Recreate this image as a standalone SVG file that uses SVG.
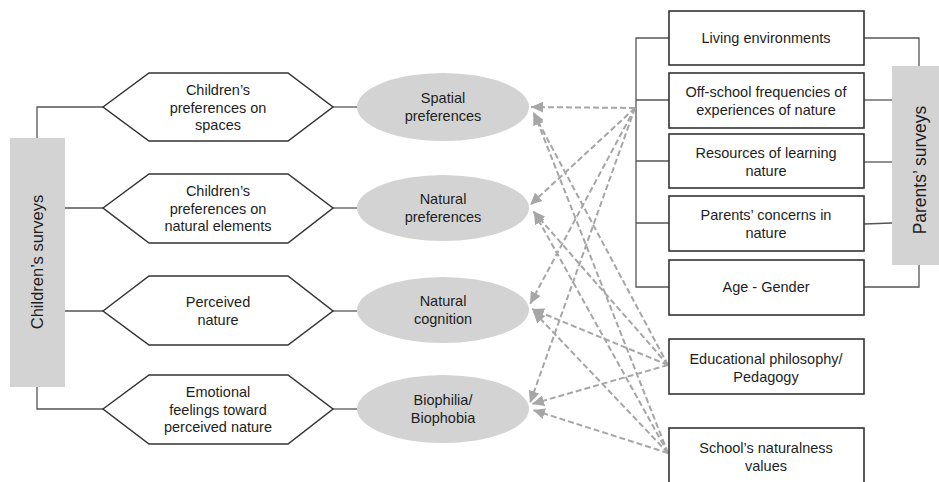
<svg xmlns="http://www.w3.org/2000/svg" width="939" height="482" viewBox="0 0 939 482">
<defs>
<style>
text{font-family:"Liberation Sans",Arial,sans-serif;fill:#1e1e1e;text-anchor:middle;font-size:14.5px}
.bar{fill:#d3d3d3;stroke:none}
.big{font-size:16.5px}
.big2{font-size:17.5px}
.hex{fill:#fff;stroke:#333;stroke-width:1.5}
.ell{fill:#d3d3d3;stroke:none}
.box{fill:#fff;stroke:#333;stroke-width:1.6}
.ln{fill:none;stroke:#555;stroke-width:1.3}
.da{fill:none;stroke:#a6a6a6;stroke-width:2;stroke-dasharray:6 3;marker-end:url(#ah)}
</style>
<marker id="ah" markerUnits="userSpaceOnUse" markerWidth="13" markerHeight="11" refX="12" refY="5.5" orient="auto" viewBox="0 0 13 11">
<path d="M0,0 L12,5.5 L0,11 z" fill="#a6a6a6"/>
</marker>
</defs>

<g id="connectors">
<path class="ln" d="M103,107 H37 V138"/>
<path class="ln" d="M65,208 H103"/>
<path class="ln" d="M65,311 H103"/>
<path class="ln" d="M37,387 V409 H103"/>
<path class="ln" d="M333,107 H357"/>
<path class="ln" d="M333,208 H357"/>
<path class="ln" d="M333,311 H357"/>
<path class="ln" d="M333,409 H357"/>
<path class="ln" d="M669,38 H636 V287 H669"/>
<path class="ln" d="M636,100 H669"/>
<path class="ln" d="M636,161 H669"/>
<path class="ln" d="M636,223 H669"/>
<path class="ln" d="M864,38 H919 V66"/>
<path class="ln" d="M864,287 H919 V265"/>
<path class="ln" d="M864,100 H892"/>
<path class="ln" d="M864,162 H892"/>
<path class="ln" d="M864,224 L892,223"/>
<path class="da" d="M635,108 L531,107"/>
<path class="da" d="M635,108 L530,205"/>
<path class="da" d="M635,108 L530,304"/>
<path class="da" d="M635,108 L530,403"/>
<path class="da" d="M668,365 L533,112"/>
<path class="da" d="M668,365 L533,211"/>
<path class="da" d="M668,365 L532,309"/>
<path class="da" d="M668,365 L532,404"/>
<path class="da" d="M668,453 L534,113"/>
<path class="da" d="M668,453 L534,212"/>
<path class="da" d="M668,453 L533,311"/>
<path class="da" d="M668,453 L533,410"/>
</g>

<g id="childrens-surveys">
<rect class="bar" x="10" y="138" width="55" height="249"/>
<text class="big" transform="translate(43,262) rotate(-90)">Children’s surveys</text>
</g>

<g id="hex-spaces">
<polygon class="hex" points="103,107 149,73 288,73 333,107 288,141 149,141"/>
<text x="218" y="95">Children’s</text>
<text x="218" y="113">preferences on</text>
<text x="218" y="130">spaces</text>
</g>
<g id="hex-natural-elements">
<polygon class="hex" points="103,208 149,174 288,174 333,208 288,243 149,243"/>
<text x="218" y="196">Children’s</text>
<text x="218" y="214">preferences on</text>
<text x="218" y="231">natural elements</text>
</g>
<g id="hex-perceived">
<polygon class="hex" points="103,311 149,276 288,276 333,311 288,345 149,345"/>
<text x="218" y="307">Perceived</text>
<text x="218" y="325">nature</text>
</g>
<g id="hex-emotional">
<polygon class="hex" points="103,409 149,375 288,375 333,409 288,444 149,444"/>
<text x="218" y="397">Emotional</text>
<text x="218" y="415">feelings toward</text>
<text x="218" y="432">perceived nature</text>
</g>

<g id="ell-spatial">
<ellipse class="ell" cx="443" cy="107" rx="86" ry="34"/>
<text x="443" y="103">Spatial</text>
<text x="443" y="121">preferences</text>
</g>
<g id="ell-natural-pref">
<ellipse class="ell" cx="443" cy="208" rx="86" ry="33"/>
<text x="443" y="204">Natural</text>
<text x="443" y="222">preferences</text>
</g>
<g id="ell-cognition">
<ellipse class="ell" cx="443" cy="310" rx="86" ry="33"/>
<text x="443" y="306">Natural</text>
<text x="443" y="324">cognition</text>
</g>
<g id="ell-biophilia">
<ellipse class="ell" cx="443" cy="409" rx="86" ry="34"/>
<text x="443" y="405">Biophilia/</text>
<text x="443" y="423">Biophobia</text>
</g>

<g id="box-living">
<rect class="box" x="669" y="11" width="195" height="54"/>
<text x="766" y="43">Living environments</text>
</g>
<g id="box-offschool">
<rect class="box" x="669" y="73" width="195" height="55"/>
<text x="766" y="97">Off-school frequencies of</text>
<text x="766" y="115">experiences of nature</text>
</g>
<g id="box-resources">
<rect class="box" x="669" y="134" width="195" height="54"/>
<text x="766" y="158">Resources of learning</text>
<text x="766" y="176">nature</text>
</g>
<g id="box-concerns">
<rect class="box" x="669" y="196" width="195" height="55"/>
<text x="766" y="220">Parents’ concerns in</text>
<text x="766" y="238">nature</text>
</g>
<g id="box-age">
<rect class="box" x="669" y="260" width="195" height="55"/>
<text x="766" y="292">Age - Gender</text>
</g>
<g id="box-educational">
<rect class="box" x="669" y="339" width="195" height="55"/>
<text x="766" y="364">Educational philosophy/</text>
<text x="766" y="382">Pedagogy</text>
</g>
<g id="box-school">
<rect class="box" x="669" y="428" width="195" height="58"/>
<text x="766" y="453">School’s naturalness</text>
<text x="766" y="471">values</text>
</g>

<g id="parents-surveys">
<rect class="bar" x="892" y="66" width="47" height="199"/>
<text class="big2" transform="translate(926,170) rotate(-90)">Parents’ surveys</text>
</g>
</svg>
